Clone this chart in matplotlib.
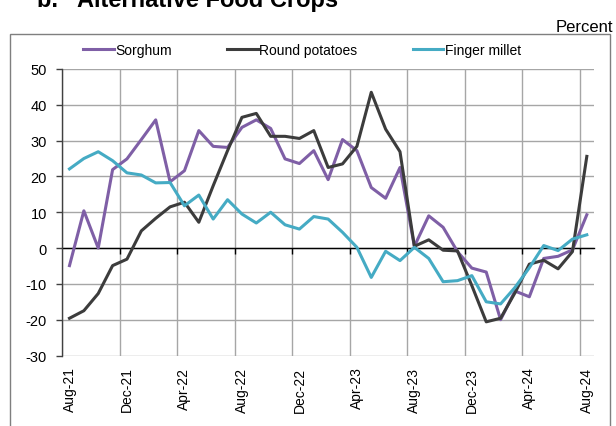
import matplotlib
matplotlib.use("Agg")
import matplotlib.pyplot as plt
import pandas as pd
from matplotlib.patches import Rectangle

plt.rcParams['font.family'] = ['Liberation Sans', 'DejaVu Sans']
plt.rcParams['axes.unicode_minus'] = False

# monthly, Aug-21 .. Aug-24
months = list(pd.date_range('2021-08-01', periods=37, freq='MS').strftime('%b-%y'))

sorghum = [-4.9, 10.4, 0.0, 21.9, 24.9, 30.3, 35.8, 18.5, 21.6, 32.8,
           28.4, 28.1, 33.7, 35.8, 33.4, 24.9, 23.6, 27.2, 19.1, 30.3,
           27.2, 16.9, 13.9, 22.5, 0.5, 9.0, 5.8, -1.0, -5.6, -6.7,
           -20.0, -12.0, -13.6, -2.9, -2.3, -0.5, 9.3]
potatoes = [-19.6, -17.5, -12.7, -4.9, -3.1, 4.8, 8.3, 11.5, 12.8, 7.2,
            17.4, 27.2, 36.5, 37.6, 31.2, 31.2, 30.6, 32.8, 22.5, 23.5,
            28.4, 43.5, 33.2, 26.9, 0.5, 2.3, -0.6, -0.8, -10.5, -20.6,
            -19.6, -12.5, -4.5, -3.4, -5.8, -1.0, 25.6]
millet = [22.1, 25.0, 26.9, 24.4, 21.0, 20.4, 18.2, 18.3, 11.8, 14.8,
          8.1, 13.5, 9.5, 7.0, 10.0, 6.5, 5.3, 8.8, 8.1, 4.4,
          0.2, -8.2, -0.9, -3.5, 0.2, -2.9, -9.4, -9.1, -7.7, -15.0,
          -15.6, -11.0, -5.5, 0.7, -0.7, 2.5, 3.7]

series_names = ['Sorghum', 'Round potatoes', 'Finger millet']
series_colors = ['#7f5fa6', '#3c3c3c', '#45abc4']

fig = plt.figure(figsize=(6.16, 4.27), dpi=100)
ax = fig.add_axes([62.3 / 616, 1 - 356.5 / 427, (594 - 62.3) / 616, (356.5 - 70) / 427])

x = list(range(len(months)))
lines = []
for vals, name, col in zip([sorghum, potatoes, millet], series_names, series_colors):
    ln, = ax.plot(x, vals, color=col, lw=2.2, label=name)
    lines.append(ln)

ax.set_xlim(-0.5, len(months) - 0.5)
ax.set_ylim(-30, 50)
ax.set_yticks(range(-30, 51, 10))

# gridlines (vertical ones sit between categories)
for v in range(-30, 51, 10):
    ax.axhline(v, color='#a6a6a6', lw=1, zorder=0)
for k in range(0, len(months), 4):
    ax.axvline(k - 0.5, color='#a6a6a6', lw=1, zorder=0)

ax.set_xticks(x[::4])
ax.set_xticklabels(months[::4], rotation=90, fontsize=10)
ax.tick_params(axis='x', length=0, pad=8)
ax.tick_params(axis='y', direction='out', length=4, width=1, color='#404040',
               labelsize=10.5, pad=7)

for s in ['top', 'right', 'bottom']:
    ax.spines[s].set_visible(False)
ax.spines['left'].set_color('#404040')
ax.spines['left'].set_linewidth(1)

# zero line with its tick marks
zero_ax = ax.secondary_xaxis(30 / 80)
zero_ax.set_xticks([k - 0.5 for k in range(4, len(months), 4)])
zero_ax.set_xticklabels([])
zero_ax.tick_params(direction='out', length=4, width=1, color='black')
zero_ax.spines['bottom'].set_color('black')
zero_ax.spines['bottom'].set_linewidth(1)

fig.legend(handles=lines, labels=series_names, loc='center',
           bbox_to_anchor=(302 / 616, 1 - 51 / 427), ncol=3, frameon=False,
           fontsize=10, handlelength=2.2, handletextpad=0.1, columnspacing=4.0)

# outer box
fig.patches.append(Rectangle((10 / 616, -0.1), 600 / 616, 1.1 - 35 / 427,
                             transform=fig.transFigure, fill=False,
                             edgecolor='#7f7f7f', lw=1))

fig.text(37 / 616, 1 - 6.5 / 427, 'b.   Alternative Food Crops', fontsize=17,
         fontweight='bold', ha='left', va='baseline')
fig.text(613 / 616, 1 - 27 / 427, 'Percent', fontsize=12, ha='right', va='center')

fig.savefig('out.png', dpi=100)
